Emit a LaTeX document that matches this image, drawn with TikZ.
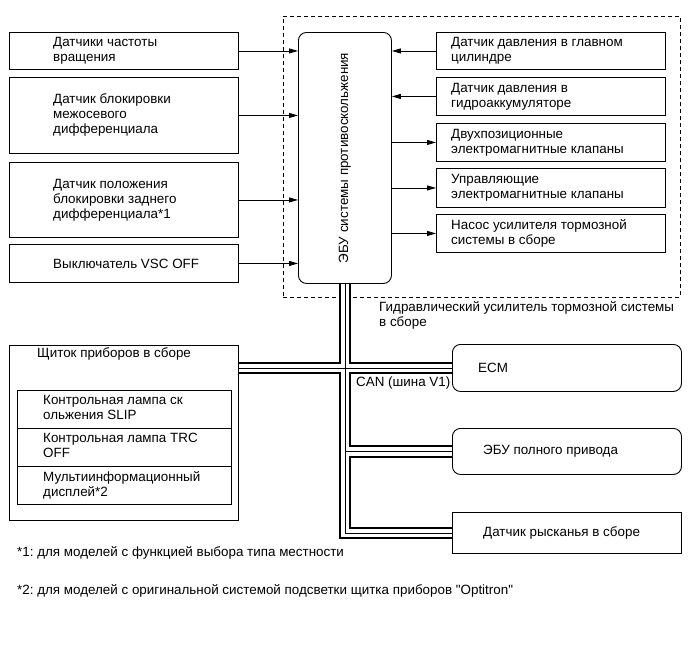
\documentclass[tikz,border=0pt]{standalone}
\usepackage{fontspec}
\setmainfont{Liberation Sans}[Ligatures=TeXOff]
\usetikzlibrary{arrows.meta,backgrounds}
\frenchspacing
\begin{document}
\begin{tikzpicture}[x=1pt,y=-1pt,
  box/.style={draw, line width=0.9pt, fill=white, anchor=north west, inner sep=0pt},
  rbox/.style={box, rounded corners=8pt},
  txt/.style={anchor=west, align=left, inner sep=0pt, font=\fontsize{13.4}{15}\selectfont},
  arr/.style={line width=0.9pt, -{Triangle[length=9pt,width=5pt]}},
  grp/.style={draw, dashed, dash pattern=on 4pt off 3pt, line width=0.8pt, anchor=north west, inner sep=0pt}]
\useasboundingbox (0,0) rectangle (690,659);
% left sensors
\node[box, minimum width=229pt, minimum height=37pt] (s1) at (9,32) {};
\node[box, minimum width=229pt, minimum height=76pt] (s2) at (9,77) {};
\node[box, minimum width=229pt, minimum height=75pt] (s3) at (9,162) {};
\node[box, minimum width=229pt, minimum height=38pt] (s4) at (9,244) {};
\node[txt] (ts1) at ([xshift=44pt]s1.west) {Датчики частоты\\вращения};
\node[txt] (ts2) at ([xshift=44pt]s2.west) {Датчик блокировки\\межосевого\\дифференциала};
\node[txt] (ts3) at ([xshift=44pt]s3.west) {Датчик положения\\блокировки заднего\\дифференциала*1};
\node[txt] (ts4) at ([xshift=44pt]s4.west) {Выключатель VSC OFF};
% ECU
\node[rbox, minimum width=93pt, minimum height=251pt] (ecu) at (298,32) {};
\node[txt, anchor=center, rotate=90] (tecu) at (ecu.center) {ЭБУ системы противоскольжения};
% right boxes
\node[box, minimum width=229pt, minimum height=37pt] (r1) at (436,32) {};
\node[box, minimum width=229pt, minimum height=38pt] (r2) at (436,77) {};
\node[box, minimum width=229pt, minimum height=38pt] (r3) at (436,123) {};
\node[box, minimum width=229pt, minimum height=39pt] (r4) at (436,168) {};
\node[box, minimum width=229pt, minimum height=38pt] (r5) at (436,214) {};
\node[txt] (tr1) at ([xshift=15pt]r1.west) {Датчик давления в главном\\цилиндре};
\node[txt] (tr2) at ([xshift=15pt]r2.west) {Датчик давления в\\гидроаккумуляторе};
\node[txt] (tr3) at ([xshift=15pt]r3.west) {Двухпозиционные\\электромагнитные клапаны};
\node[txt] (tr4) at ([xshift=15pt]r4.west) {Управляющие\\электромагнитные клапаны};
\node[txt] (tr5) at ([xshift=15pt]r5.west) {Насос усилителя тормозной\\системы в сборе};
\node[txt, anchor=west] (thyd) at (379,315.5) {Гидравлический усилитель тормозной системы\\в сборе};
% instrument panel
\node[box, minimum width=229pt, minimum height=175pt] (panel) at (9,345) {};
\node[txt] (tpanel) at (37,354) {Щиток приборов в сборе};
\node[box, minimum width=214pt, minimum height=38pt] (p1) at (17,390) {};
\node[box, minimum width=214pt, minimum height=38pt] (p2) at (17,428) {};
\node[box, minimum width=214pt, minimum height=38pt] (p3) at (17,466) {};
\node[txt] (tp1) at ([xshift=26pt,yshift=2pt]p1.west) {Контрольная лампа ск\\ольжения SLIP};
\node[txt] (tp2) at ([xshift=26pt,yshift=2pt]p2.west) {Контрольная лампа TRC\\OFF};
\node[txt] (tp3) at ([xshift=26pt]p3.west) {Мультиинформационный\\дисплей*2};
% CAN nodes
\node[rbox, minimum width=229pt, minimum height=47pt] (ecm) at (452,344) {};
\node[rbox, minimum width=229pt, minimum height=46pt] (awd) at (452,428) {};
\node[box, minimum width=229pt, minimum height=41pt] (yaw) at (452,512) {};
\node[txt] (tecm) at ([xshift=26pt]ecm.west) {ECM};
\node[txt] (tawd) at ([xshift=31pt]awd.west) {ЭБУ полного привода};
\node[txt] (tyaw) at ([xshift=31pt]yaw.west) {Датчик рысканья в сборе};
\node[txt] (tcan) at (356,383) {CAN (шина V1)};
% footnotes
\node[txt] (f1) at (17,553) {*1: для моделей с функцией выбора типа местности};
\node[txt] (f2) at (17,591) {*2: для моделей с оригинальной системой подсветки щитка приборов "Optitron"};
% arrows
\foreach \s in {s1,s2,s3,s4} \draw[arr] (\s.east) -- (\s.east -| ecu.west);
\foreach \r in {r1,r2} \draw[arr] (\r.west) -- (\r.west -| ecu.east);
\foreach \r in {r3,r4,r5} \draw[arr] (\r.west -| ecu.east) -- (\r.west);
% group box and bus (behind)
\begin{scope}[on background layer]
\node[grp, minimum width=397pt, minimum height=281pt] (hyd) at (283,16) {};
\foreach \w/\c in {12.4pt/black, 8.4pt/white, 0.8pt/black} {
  \draw[line width=\w, draw=\c] (ecu.south) -- (ecu.south |- yaw.west) -- (yaw.west);
  \draw[line width=\w, draw=\c] (panel.east |- ecm.west) -- (ecm.west);
  \draw[line width=\w, draw=\c] (ecu.south |- awd.west) -- (awd.west);
}
\end{scope}
\end{tikzpicture}
\end{document}
